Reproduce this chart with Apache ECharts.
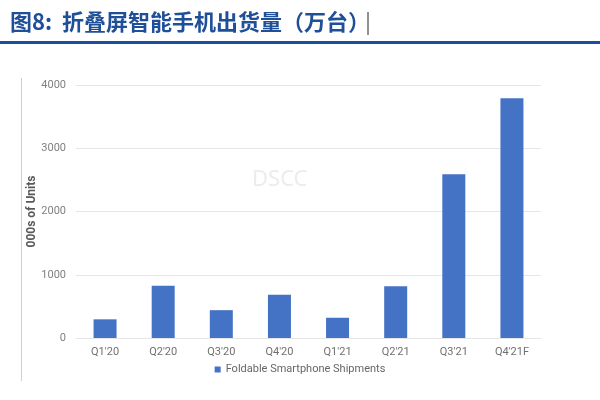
<!DOCTYPE html>
<html>
<head>
<meta charset="utf-8">
<script src="https://cdn.jsdelivr.net/npm/echarts@6/dist/echarts.min.js"></script>
<style>html,body{margin:0;padding:0;background:#fff}#c{width:600px;height:400px}</style>
</head>
<body>
<div id="c"></div>
<script>
const categories = ["Q1'20","Q2'20","Q3'20","Q4'20","Q1'21","Q2'21","Q3'21","Q4'21F"];
const shipments = [295, 825, 440, 685, 320, 820, 2590, 3790];
const yTicks = [0, 1000, 2000, 3000, 4000];
const titleText = "图8:  折叠屏智能手机出货量（万台）";
const seriesName = "Foldable Smartphone Shipments";
const yAxisName = "000s of Units";

const chart = echarts.init(document.getElementById('c'), null, {renderer: 'canvas'});
chart.setOption({
  animation: false,
  backgroundColor: '#fff',
  grid: {left: 76, right: 59, top: 85, bottom: 62},
  graphic: [
    {type: 'text', left: 10, top: 11, style: {text: titleText, font: 'bold 22px "Noto Sans CJK SC"', fill: '#1f4f98'}},
    {type: 'line', shape: {x1: 368, y1: 12, x2: 368, y2: 35}, style: {stroke: '#222', lineWidth: 1}},
    {type: 'rect', shape: {x: 0, y: 41, width: 600, height: 3}, style: {fill: '#1a4f9c'}},
    {type: 'line', shape: {x1: 21.5, y1: 78, x2: 21.5, y2: 381}, style: {stroke: '#cfcfcf', lineWidth: 1}},
    {type: 'text', left: 252, top: 169, style: {text: 'DSCC', font: '22px "Noto Sans"', fill: '#ececec'}}
  ],
  legend: {
    data: [seriesName],
    bottom: 20,
    left: 'center',
    icon: 'rect',
    itemWidth: 6,
    itemHeight: 6,
    itemGap: 4,
    textStyle: {color: '#666', fontSize: 11, fontFamily: 'Roboto'}
  },
  xAxis: {
    type: 'category',
    data: categories,
    axisLine: {show: true, lineStyle: {color: '#e6e6e6'}},
    axisTick: {show: false},
    axisLabel: {color: '#707070', fontSize: 11, fontFamily: 'Roboto', margin: 9}
  },
  yAxis: {
    type: 'value',
    min: yTicks[0],
    max: yTicks[yTicks.length - 1],
    interval: 1000,
    name: yAxisName,
    nameLocation: 'middle',
    nameGap: 38,
    nameMoveOverlap: false,
    nameTextStyle: {color: '#595959', fontSize: 12, fontWeight: 'bold', fontFamily: 'Roboto'},
    axisLine: {show: false},
    axisTick: {show: false},
    splitLine: {lineStyle: {color: '#e6e6e6'}},
    axisLabel: {color: '#808080', fontSize: 11, fontFamily: 'Roboto', margin: 10, formatter: v => String(v)}
  },
  series: [{
    name: seriesName,
    type: 'bar',
    data: shipments,
    barWidth: 23,
    itemStyle: {color: '#4472c4'}
  }]
});
</script>
</body>
</html>
